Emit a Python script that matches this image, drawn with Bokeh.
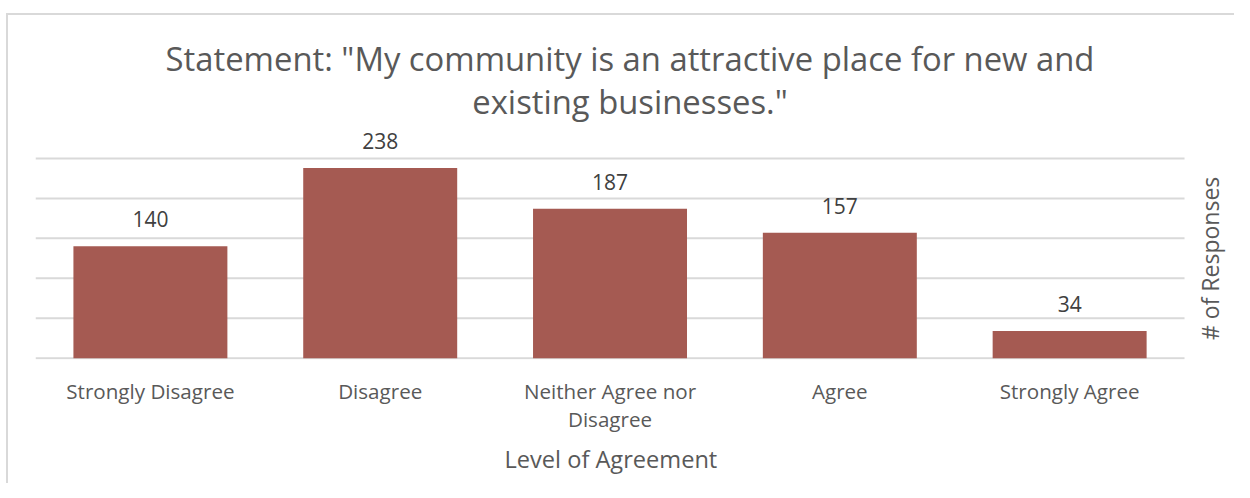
import math
from bokeh.plotting import figure
from bokeh.models import ColumnDataSource, Range1d, FixedTicker, LabelSet, Label, Title
from bokeh.core.properties import value
from bokeh.embed import file_html
from bokeh.resources import INLINE

categories = ["Strongly Disagree", "Disagree", "Neither Agree nor Disagree", "Agree", "Strongly Agree"]
tick_labels = ["Strongly Disagree", "Disagree", "Neither Agree nor\nDisagree", "Agree", "Strongly Agree"]
responses = [140, 238, 187, 157, 34]
y_ticks = [0, 50, 100, 150, 200, 250]
title_line1 = 'Statement: "My community is an attractive place for new and'
title_line2 = 'existing businesses."'
x_title = "Level of Agreement"
y_title = "# of Responses"

FONT = "Open Sans"
TXT = "#595959"
GRID = "#d9d9d9"

pos = list(range(len(categories)))
src = ColumnDataSource(dict(x=pos, name=categories, n=responses,
                            lab=[str(v) for v in responses]))

# layout (pixels)
FRAME_H = 339
x_lo = -0.5
x_hi = len(categories) - 0.5 + 0.2
y_lo, y_hi = -1.5, 422.5

p = figure(
    x_range=Range1d(x_lo, x_hi),
    y_range=Range1d(y_lo, y_hi),
    width=1228, height=470,
    output_backend="svg", toolbar_location=None,
    y_axis_location=None,
    min_border_left=27, min_border_right=6, min_border_top=5, min_border_bottom=470 - 5 - FRAME_H,
    styles={"margin-top": "13px", "margin-left": "6px",
            "border-top": "2px solid #d9d9d9", "border-left": "2px solid #d9d9d9"},
)
p.outline_line_color = None
p.background_fill_color = "white"
p.grid.visible = False

# horizontal gridlines spanning the category area only
p.segment(x0=-0.5, x1=len(categories) - 0.5, y0=y_ticks, y1=y_ticks,
          line_color=GRID, line_width=2)

p.vbar(x="x", top="n", width=0.67, source=src, fill_color="#A55A52", line_color=None)
p.add_layout(LabelSet(x="x", y="n", text="lab", source=src, text_align="center",
                      text_baseline="middle", y_offset=27, text_font=value(FONT),
                      text_font_size=value("21px"), text_color=value("#404040")))

xa = p.xaxis[0]
xa.ticker = FixedTicker(ticks=pos)
xa.major_label_overrides = {i: t for i, t in zip(pos, tick_labels)}
xa.axis_line_color = None
xa.major_tick_line_color = None
xa.minor_tick_line_color = None
xa.major_label_text_font = FONT
xa.major_label_text_font_size = "20.6px"
xa.major_label_text_color = TXT
xa.major_label_text_line_height = 1.0
xa.major_label_standoff = 11

# x axis title, centred under the category area (below the tick labels)
p.add_layout(Title(text=x_title, align="left", offset=469, standoff=14, vertical_align="top",
                   text_font=FONT, text_font_size="23.6px", text_font_style="normal",
                   text_color=TXT), "below")

# y axis title (right side, reading upward)
p.add_layout(Label(x=len(categories) - 0.5, y=125, x_offset=25, text=y_title, angle=math.pi / 2,
                   text_align="center", text_baseline="middle", text_font=FONT,
                   text_font_size="23px", text_color=TXT))

# chart title, two centred lines
mid = (len(categories) - 1) / 2
p.add_layout(Label(x=mid, y=y_ticks[-1], x_offset=20, y_offset=100, text=title_line1,
                   text_align="center", text_baseline="middle", text_font=FONT,
                   text_font_size="32.8px", text_color=TXT))
p.add_layout(Label(x=mid, y=y_ticks[-1], x_offset=20, y_offset=57, text=title_line2,
                   text_align="center", text_baseline="middle", text_font=FONT,
                   text_font_size="32.8px", text_color=TXT))

open("out.html", "w").write(file_html(p, INLINE))
